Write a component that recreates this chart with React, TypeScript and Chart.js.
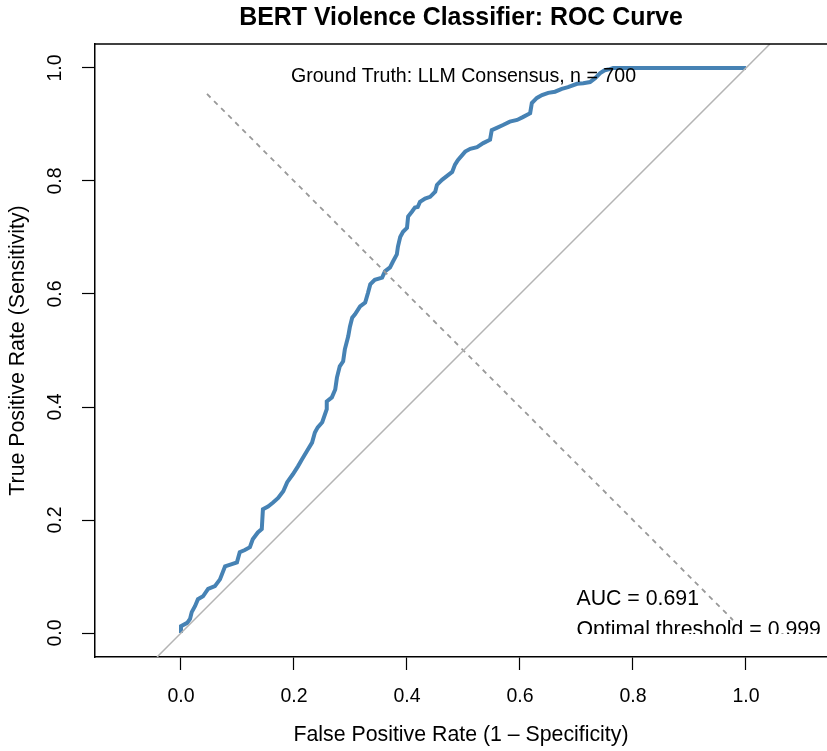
import React, { useEffect, useRef } from "react";
import { Chart, registerables } from "chart.js";

Chart.register(...registerables);

const chartTitle = "BERT Violence Classifier: ROC Curve";
const xAxisTitle = "False Positive Rate (1 – Specificity)";
const yAxisTitle = "True Positive Rate (Sensitivity)";

const xTicks = [0, 0.2, 0.4, 0.6, 0.8, 1.0];
const yTicks = [0, 0.2, 0.4, 0.6, 0.8, 1.0];

const xMin = -0.1522;
const xMax = 1.1434;
const yMin = -0.0424;
const yMax = 1.0424;

// ROC curve (false positive rate, true positive rate)
const fpr = [
  0.0, 0.0, 0.011, 0.016, 0.019, 0.025, 0.03, 0.039, 0.048, 0.06, 0.069, 0.078,
  0.09, 0.099, 0.104, 0.113, 0.122, 0.127, 0.136, 0.143, 0.145, 0.154, 0.163,
  0.172, 0.181, 0.188, 0.198, 0.207, 0.214, 0.223, 0.232, 0.237, 0.242, 0.25,
  0.258, 0.258, 0.267, 0.273, 0.276, 0.281, 0.287, 0.29, 0.296, 0.299, 0.303,
  0.308, 0.317, 0.326, 0.331, 0.335, 0.343, 0.356, 0.361, 0.37, 0.375, 0.382,
  0.384, 0.388, 0.393, 0.4, 0.402, 0.409, 0.414, 0.419, 0.423, 0.432, 0.441,
  0.45, 0.453, 0.462, 0.471, 0.48, 0.485, 0.49, 0.503, 0.512, 0.524, 0.535,
  0.547, 0.55, 0.559, 0.57, 0.582, 0.595, 0.605, 0.618, 0.621, 0.63, 0.639,
  0.65, 0.662, 0.674, 0.685, 0.701, 0.712, 0.724, 0.733, 0.742, 0.75, 0.759,
  0.765, 1.0,
];
const tpr = [
  0.0, 0.012, 0.018, 0.025, 0.037, 0.048, 0.06, 0.065, 0.078, 0.083, 0.095, 0.118,
  0.122, 0.125, 0.143, 0.147, 0.152, 0.166, 0.178, 0.184, 0.219, 0.224, 0.231,
  0.239, 0.251, 0.267, 0.281, 0.295, 0.307, 0.322, 0.337, 0.355, 0.364, 0.373,
  0.396, 0.41, 0.417, 0.431, 0.452, 0.472, 0.481, 0.502, 0.525, 0.542, 0.558,
  0.564, 0.578, 0.585, 0.602, 0.617, 0.625, 0.629, 0.64, 0.647, 0.657, 0.67,
  0.684, 0.701, 0.71, 0.717, 0.737, 0.746, 0.753, 0.754, 0.763, 0.769, 0.772,
  0.781, 0.793, 0.802, 0.809, 0.816, 0.829, 0.837, 0.852, 0.857, 0.86, 0.867,
  0.873, 0.89, 0.894, 0.899, 0.905, 0.908, 0.913, 0.92, 0.938, 0.947, 0.952,
  0.956, 0.958, 0.963, 0.966, 0.972, 0.973, 0.975, 0.982, 0.991, 0.996, 0.998,
  1.0, 1.0,
];

// reference line y = x (across the plot region) and the dashed y = 1 - x segment
const chanceX = [yMin, yMax];
const chanceY = [yMin, yMax];
const thresholdX = [0.046, 0.977];
const thresholdY = [0.954, 0.023];

const noteTexts = [
  "Ground Truth: LLM Consensus, n = 700",
  "AUC = 0.691",
  "Optimal threshold = 0.999",
];
const noteX = [0.5, 0.7, 0.7];
const noteY = [0.976, 0.0495, -0.0053];
const noteSize = [19.6, 21.3, 21.3];
const noteAlign: CanvasTextAlign[] = ["center", "left", "left"];
const noteClipY = -0.0018;

const FONT = "'Liberation Sans', Arial, Helvetica, sans-serif";

const toPoints = (xs: number[], ys: number[]) =>
  xs.map((x, i) => ({ x, y: ys[i] }));

const boxPlugin = {
  id: "boxAndNotes",
  afterDatasetsDraw(chart: any) {
    const { ctx, chartArea, scales } = chart;
    const xs = scales.x;
    const ys = scales.y;
    ctx.save();
    // top border of the plot box
    ctx.strokeStyle = "#000";
    ctx.lineWidth = 1.5;
    ctx.beginPath();
    ctx.moveTo(chartArea.left, chartArea.top);
    ctx.lineTo(chartArea.right, chartArea.top);
    ctx.stroke();
    // annotations
    ctx.fillStyle = "#000";
    ctx.textBaseline = "alphabetic";
    ctx.beginPath();
    ctx.rect(
      chartArea.left,
      chartArea.top,
      chartArea.right - chartArea.left,
      ys.getPixelForValue(noteClipY) - chartArea.top
    );
    ctx.clip();
    noteTexts.forEach((t, i) => {
      ctx.font = `${noteSize[i]}px ${FONT}`;
      ctx.textAlign = noteAlign[i];
      ctx.fillText(t, xs.getPixelForValue(noteX[i]), ys.getPixelForValue(noteY[i]));
    });
    ctx.restore();
  },
};

export default function App() {
  const ref = useRef<HTMLCanvasElement | null>(null);

  useEffect(() => {
    document.body.style.margin = "0";
    const canvas = ref.current;
    if (!canvas) return;
    const chart = new Chart(canvas, {
      type: "scatter",
      data: {
        datasets: [
          {
            label: "chance",
            data: toPoints(chanceX, chanceY),
            showLine: true,
            borderColor: "#b4b4b4",
            borderWidth: 1.5,
            pointRadius: 0,
          },
          {
            label: "threshold",
            data: toPoints(thresholdX, thresholdY),
            showLine: true,
            borderColor: "#999999",
            borderWidth: 1.8,
            borderDash: [5, 5],
            pointRadius: 0,
          },
          {
            label: "ROC",
            data: toPoints(fpr, tpr),
            showLine: true,
            borderColor: "#4682B4",
            borderWidth: 4,
            pointRadius: 0,
            tension: 0,
          },
        ],
      },
      options: {
        responsive: false,
        animation: false,
        devicePixelRatio: 1,
        layout: { padding: 0 },
        plugins: {
          legend: { display: false },
          tooltip: { enabled: false },
          title: {
            display: true,
            text: chartTitle,
            fullSize: false,
            color: "#000",
            font: { family: FONT, size: 24.9, weight: "bold", lineHeight: 1.2 },
            padding: { top: 3.06, bottom: 11.06 },
          },
        },
        scales: {
          x: {
            type: "linear",
            min: xMin,
            max: xMax,
            afterBuildTicks: (s: any) => {
              s.ticks = xTicks.map((v) => ({ value: v }));
            },
            afterFit: (s: any) => {
              s.height = 94;
            },
            grid: {
              drawOnChartArea: false,
              drawTicks: true,
              tickLength: 13,
              tickColor: "#000",
              tickWidth: 1.2,
            },
            border: { display: true, color: "#000", width: 1.5 },
            ticks: {
              color: "#000",
              font: { family: FONT, size: 19.5, lineHeight: 1.2 },
              padding: 15,
              maxRotation: 0,
              minRotation: 0,
              autoSkip: false,
              callback: (v: any) => Number(v).toFixed(1),
            },
            title: {
              display: true,
              text: xAxisTitle,
              color: "#000",
              font: { family: FONT, size: 21.3, lineHeight: 1.2 },
              padding: { top: 0, bottom: 3.2 },
            },
          },
          y: {
            type: "linear",
            min: yMin,
            max: yMax,
            afterBuildTicks: (s: any) => {
              s.ticks = yTicks.map((v) => ({ value: v }));
            },
            afterFit: (s: any) => {
              s.width = 95;
            },
            grid: {
              drawOnChartArea: false,
              drawTicks: true,
              tickLength: 13,
              tickColor: "#000",
              tickWidth: 1.2,
            },
            border: { display: true, color: "#000", width: 1.5 },
            ticks: {
              color: "#000",
              font: { family: FONT, size: 19.5, lineHeight: 1.2 },
              padding: 12.6,
              minRotation: 90,
              maxRotation: 90,
              crossAlign: "center",
              autoSkip: false,
              callback: (v: any) => Number(v).toFixed(1),
            },
            title: {
              display: true,
              text: yAxisTitle,
              color: "#000",
              font: { family: FONT, size: 21.3, lineHeight: 1.2 },
              padding: { top: 5.2, bottom: 0 },
            },
          },
        },
      },
      plugins: [boxPlugin],
    });
    return () => chart.destroy();
  }, []);

  return (
    <div style={{ width: 827, height: 751 }}>
      <canvas ref={ref} width={827} height={751} style={{ display: "block", width: 827, height: 751 }} />
    </div>
  );
}
